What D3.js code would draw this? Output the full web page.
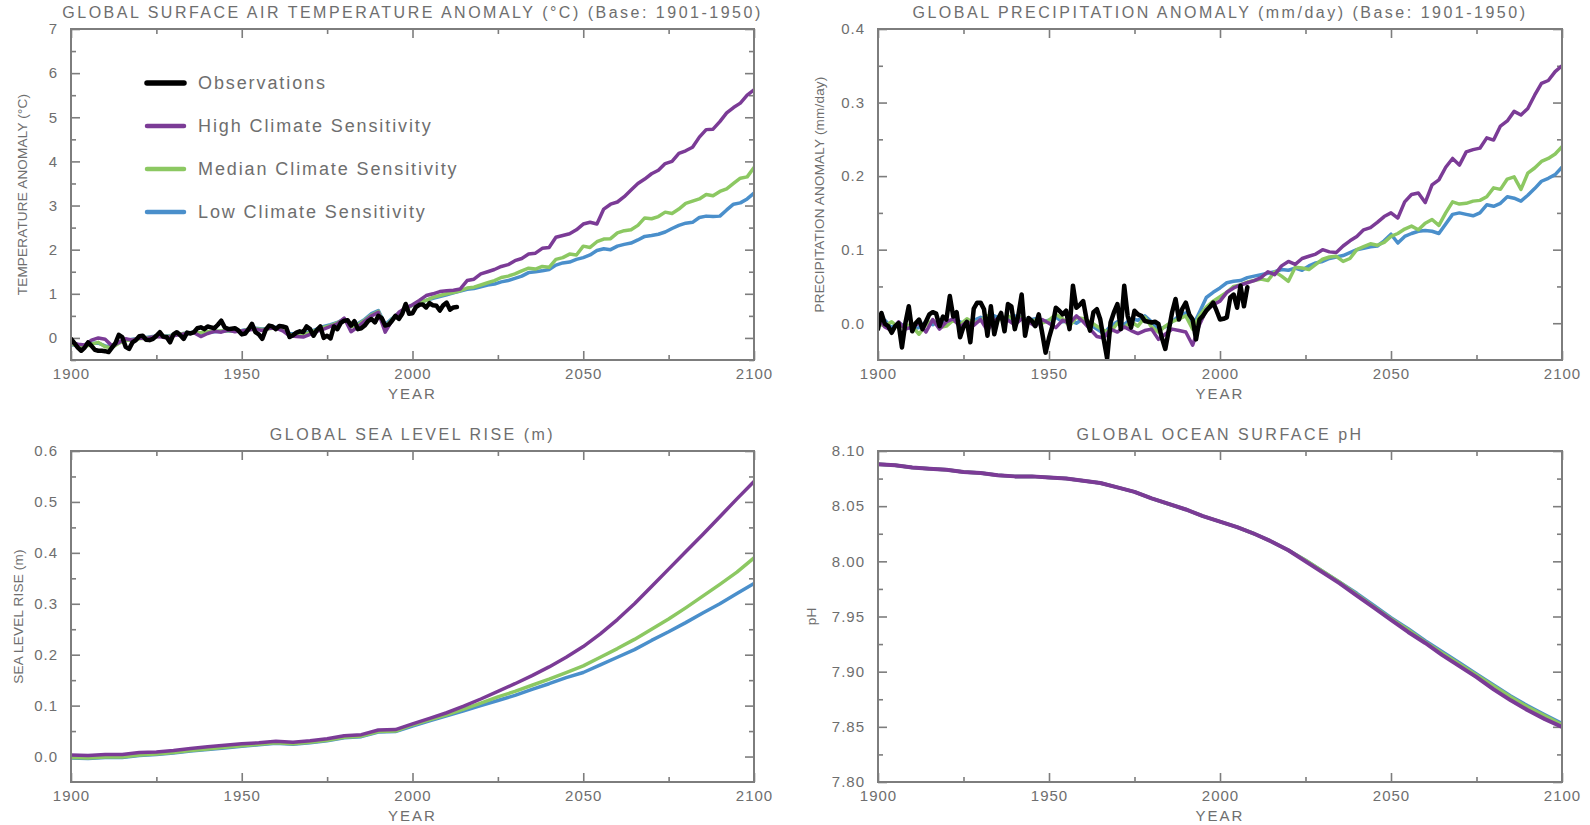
<!DOCTYPE html>
<html>
<head>
<meta charset="utf-8">
<script src="https://cdn.jsdelivr.net/npm/d3@7"></script>
<style>
  body { margin: 0; background: #fff; }
  svg text { font-family: "Liberation Sans", Arial, sans-serif; fill: #6e6e6e; }
</style>
</head>
<body>
<svg id="chart" width="1590" height="825"></svg>
<script>
// ---- data ----
const modelYears = d3.range(1900, 2101, 2);
const smoothYears = d3.range(1900, 2101, 5);
const obsTempYears = d3.range(1900, 2014);
const obsPrecipYears = d3.range(1900, 2009);

const seriesNames = ['Observations', 'High Climate Sensitivity', 'Median Climate Sensitivity', 'Low Climate Sensitivity'];

// temperature anomaly (deg C), every 2 years 1900-2100
const tempHigh = [-0.10,-0.14,-0.16,-0.05,0.00,-0.03,-0.18,-0.10,-0.02,-0.05,0.00,-0.02,0.02,0.03,0.00,0.05,0.08,0.10,0.12,0.03,
  0.10,0.15,0.13,0.18,0.14,0.16,0.18,0.20,0.17,0.22,0.22,0.16,0.05,0.03,0.02,0.08,0.15,0.20,0.26,0.32,
  0.45,0.14,0.25,0.38,0.50,0.58,0.13,0.40,0.58,0.68,0.75,0.85,0.96,1.00,1.05,1.07,1.08,1.11,1.30,1.33,
  1.45,1.50,1.55,1.62,1.66,1.75,1.80,1.90,1.92,2.03,2.05,2.28,2.32,2.36,2.45,2.58,2.62,2.58,2.92,3.03,
  3.08,3.20,3.35,3.50,3.60,3.72,3.80,3.95,4.00,4.18,4.24,4.32,4.55,4.72,4.73,4.90,5.10,5.22,5.32,5.50,5.62];
const tempMedian = [-0.14,-0.16,-0.20,-0.14,-0.10,-0.20,-0.22,-0.12,-0.06,-0.04,-0.02,0.00,0.02,0.04,0.03,0.06,0.09,0.11,0.12,0.12,
  0.14,0.15,0.16,0.17,0.15,0.16,0.19,0.21,0.19,0.21,0.23,0.19,0.08,0.07,0.08,0.12,0.18,0.24,0.28,0.34,
  0.42,0.25,0.30,0.40,0.52,0.60,0.25,0.42,0.56,0.66,0.74,0.80,0.85,0.92,0.96,1.00,1.03,1.07,1.13,1.15,
  1.20,1.25,1.30,1.37,1.40,1.45,1.52,1.58,1.56,1.62,1.60,1.78,1.82,1.90,1.88,2.08,2.05,2.18,2.24,2.25,
  2.38,2.43,2.45,2.55,2.72,2.70,2.75,2.85,2.82,2.92,3.05,3.10,3.15,3.25,3.22,3.32,3.38,3.50,3.62,3.65,3.86];
const tempLow = [-0.16,-0.15,-0.18,-0.12,-0.12,-0.18,-0.20,-0.11,-0.05,-0.03,-0.01,0.01,0.03,0.05,0.04,0.07,0.09,0.11,0.13,0.11,
  0.13,0.14,0.15,0.16,0.15,0.17,0.20,0.22,0.20,0.22,0.24,0.20,0.10,0.09,0.10,0.14,0.20,0.26,0.30,0.35,
  0.43,0.28,0.32,0.42,0.55,0.62,0.30,0.44,0.56,0.66,0.74,0.80,0.85,0.90,0.94,0.98,1.02,1.06,1.10,1.12,
  1.16,1.20,1.22,1.27,1.30,1.35,1.40,1.48,1.50,1.52,1.55,1.65,1.70,1.72,1.78,1.82,1.88,1.98,2.02,2.00,
  2.08,2.12,2.15,2.22,2.30,2.32,2.35,2.40,2.48,2.55,2.60,2.62,2.73,2.76,2.75,2.76,2.90,3.03,3.06,3.15,3.28];
// observed temperature anomaly, yearly 1900-2013
const tempObs = [-0.02,-0.12,-0.22,-0.29,-0.22,-0.10,-0.18,-0.27,-0.29,-0.29,-0.30,-0.32,-0.22,-0.12,0.07,0.02,-0.20,-0.25,-0.10,-0.05,
  0.04,0.05,-0.04,-0.05,-0.02,0.05,0.13,0.03,0.02,-0.10,0.08,0.13,0.06,-0.02,0.12,0.10,0.13,0.22,0.24,0.20,
  0.26,0.24,0.22,0.30,0.39,0.24,0.20,0.21,0.22,0.17,0.08,0.10,0.20,0.32,0.13,0.08,-0.02,0.18,0.28,0.26,
  0.20,0.27,0.26,0.24,0.02,0.06,0.12,0.15,0.13,0.26,0.20,0.05,0.18,0.26,0.00,0.05,-0.01,0.26,0.20,0.34,
  0.39,0.40,0.28,0.38,0.20,0.22,0.28,0.38,0.43,0.35,0.50,0.45,0.28,0.30,0.39,0.50,0.43,0.55,0.77,0.55,
  0.56,0.70,0.75,0.76,0.69,0.79,0.74,0.73,0.62,0.74,0.80,0.64,0.69,0.70];

// precipitation anomaly (mm/day), every 2 years 1900-2100
const precipHigh = [0.008,-0.005,-0.010,0.002,-0.008,-0.005,0.000,-0.012,0.005,-0.008,0.002,0.006,-0.005,0.002,-0.003,0.005,-0.010,0.004,0.008,0.004,
  -0.002,0.006,0.002,-0.004,0.005,0.000,-0.006,0.004,0.000,0.010,0.002,-0.008,-0.018,-0.020,-0.008,-0.012,-0.005,-0.010,-0.014,-0.010,
  -0.008,-0.022,-0.015,-0.008,-0.010,-0.012,-0.030,-0.002,0.018,0.025,0.030,0.042,0.048,0.052,0.055,0.058,0.062,0.070,0.066,0.078,
  0.084,0.080,0.088,0.091,0.094,0.100,0.097,0.096,0.105,0.112,0.118,0.127,0.130,0.137,0.145,0.150,0.143,0.165,0.175,0.177,
  0.164,0.188,0.195,0.212,0.224,0.215,0.233,0.236,0.238,0.252,0.249,0.268,0.275,0.288,0.283,0.292,0.310,0.326,0.330,0.342,0.350];
const precipMedian = [0.000,-0.004,0.002,-0.006,-0.002,-0.004,-0.015,-0.002,0.004,-0.006,-0.004,0.004,-0.002,0.006,0.000,0.004,0.010,0.002,0.006,0.010,
  0.004,0.008,0.002,0.004,0.000,0.004,0.012,0.006,-0.004,0.008,0.006,0.002,-0.004,-0.010,-0.012,0.000,-0.006,0.002,-0.004,0.008,
  -0.005,-0.012,-0.004,0.002,0.006,0.010,-0.008,0.010,0.022,0.030,0.036,0.042,0.050,0.052,0.056,0.058,0.060,0.058,0.070,0.064,
  0.057,0.076,0.075,0.073,0.080,0.087,0.090,0.091,0.084,0.088,0.100,0.104,0.108,0.106,0.110,0.118,0.122,0.128,0.132,0.127,
  0.136,0.141,0.133,0.150,0.165,0.162,0.163,0.166,0.167,0.172,0.184,0.182,0.196,0.199,0.182,0.204,0.211,0.220,0.224,0.230,0.240];
const precipLow = [-0.004,0.004,-0.006,0.000,-0.004,-0.008,-0.006,0.002,-0.002,0.004,-0.002,0.006,0.002,-0.004,0.004,0.008,0.004,0.010,0.006,0.004,
  0.010,0.008,0.004,0.006,0.002,0.004,0.008,0.002,0.004,0.000,0.006,-0.002,-0.008,-0.014,-0.004,0.002,-0.002,0.006,0.004,0.010,
  0.002,-0.008,-0.005,0.002,0.010,0.014,-0.004,0.015,0.035,0.042,0.048,0.055,0.057,0.058,0.062,0.064,0.066,0.068,0.070,0.073,
  0.072,0.075,0.072,0.078,0.082,0.084,0.088,0.090,0.092,0.096,0.100,0.102,0.104,0.105,0.112,0.121,0.109,0.118,0.122,0.125,
  0.126,0.125,0.122,0.135,0.148,0.150,0.148,0.146,0.150,0.161,0.159,0.163,0.172,0.170,0.166,0.174,0.183,0.193,0.197,0.202,0.212];
// observed precipitation anomaly, yearly 1900-2008
const precipObs = [-0.008,0.014,-0.001,-0.004,-0.013,-0.004,0.000,-0.033,0.000,0.023,-0.011,0.000,0.005,-0.008,0.002,0.012,0.015,0.013,-0.004,0.009,
  0.005,0.037,0.009,0.015,-0.019,-0.005,0.002,-0.026,0.020,0.028,0.028,0.019,-0.017,0.023,-0.015,0.005,0.014,-0.011,0.026,0.023,
  -0.008,0.010,0.039,-0.017,0.007,0.003,-0.004,0.012,-0.013,-0.040,-0.020,-0.004,0.021,0.017,0.012,0.017,-0.008,0.051,0.021,0.025,
  0.030,0.005,-0.010,0.015,0.019,0.005,-0.022,-0.048,0.001,0.015,0.026,-0.008,0.051,0.010,-0.006,0.017,0.012,0.010,0.003,0.002,
  0.001,0.002,-0.001,-0.020,-0.035,-0.010,0.015,0.033,0.005,0.020,0.028,0.012,0.005,-0.022,0.005,0.010,0.017,0.022,0.028,0.017,
  0.005,0.006,0.008,0.035,0.039,0.021,0.051,0.023,0.049];

// sea level rise (m), every 5 years 1900-2100
const seaHigh = [0.003,0.002,0.004,0.004,0.008,0.009,0.012,0.016,0.019,0.022,0.025,0.027,0.030,0.028,0.031,0.035,0.041,0.043,0.052,0.053,
  0.064,0.075,0.086,0.099,0.113,0.128,0.143,0.159,0.176,0.195,0.216,0.241,0.269,0.300,0.334,0.368,0.402,0.436,0.471,0.506,0.540];
const seaMedian = [-0.002,-0.003,-0.001,-0.001,0.003,0.005,0.008,0.012,0.015,0.018,0.021,0.024,0.027,0.025,0.028,0.032,0.038,0.040,0.049,0.050,
  0.062,0.072,0.082,0.093,0.105,0.117,0.128,0.140,0.152,0.165,0.178,0.195,0.212,0.230,0.250,0.270,0.292,0.315,0.338,0.362,0.390];
const seaLow = [-0.003,-0.004,-0.002,-0.002,0.002,0.004,0.007,0.011,0.014,0.017,0.020,0.023,0.026,0.024,0.027,0.031,0.037,0.039,0.048,0.049,
  0.060,0.070,0.080,0.090,0.100,0.110,0.120,0.132,0.143,0.155,0.165,0.180,0.195,0.210,0.228,0.245,0.263,0.282,0.300,0.320,0.340];

// ocean surface pH, every 5 years 1900-2100
const phHigh = [8.088,8.087,8.085,8.084,8.083,8.081,8.080,8.078,8.077,8.077,8.076,8.075,8.073,8.071,8.067,8.063,8.057,8.052,8.047,8.041,
  8.036,8.031,8.025,8.018,8.010,8.000,7.990,7.980,7.969,7.958,7.947,7.936,7.926,7.915,7.905,7.895,7.884,7.874,7.865,7.857,7.850];
const phMedian = [8.088,8.087,8.085,8.084,8.083,8.081,8.080,8.078,8.077,8.077,8.076,8.075,8.073,8.071,8.067,8.063,8.057,8.052,8.047,8.041,
  8.036,8.031,8.025,8.018,8.010,8.001,7.991,7.981,7.970,7.959,7.948,7.938,7.927,7.917,7.907,7.897,7.887,7.877,7.868,7.860,7.852];
const phLow = [8.088,8.087,8.085,8.084,8.083,8.081,8.080,8.078,8.077,8.077,8.076,8.075,8.073,8.071,8.067,8.063,8.057,8.052,8.047,8.041,
  8.036,8.031,8.025,8.018,8.010,8.001,7.991,7.981,7.971,7.960,7.949,7.939,7.928,7.918,7.908,7.898,7.888,7.878,7.869,7.861,7.853];

// tick values
const yearTicks = [1900, 1950, 2000, 2050, 2100];
const yearMinor = [1925, 1975, 2025, 2075];
const tempTicks = [0, 1, 2, 3, 4, 5, 6, 7];
const precipTicks = [0, 0.1, 0.2, 0.3, 0.4];
const seaTicks = [0, 0.1, 0.2, 0.3, 0.4, 0.5, 0.6];
const phTicks = [7.80, 7.85, 7.90, 7.95, 8.00, 8.05, 8.10];

// ---- style ----
const colors = { obs: '#000000', high: '#7b3b96', median: '#8cc862', low: '#4a8fcb' };
const frameColor = '#7d7d7d';
const textColor = '#6e6e6e';

const svg = d3.select('#chart');

function addAxis(g, axisFn, scale, values, size, transform, fmt, pad) {
  const axis = axisFn(scale).tickValues(values).tickSize(-size).tickPadding(pad || 0);
  axis.tickFormat(fmt ? fmt : '');
  const sel = g.append('g').attr('transform', transform).call(axis);
  sel.attr('font-family', null).attr('font-size', null);
  sel.select('.domain').remove();
  sel.selectAll('line').attr('stroke', frameColor).attr('stroke-width', 1.6);
  sel.selectAll('text').attr('fill', textColor).style('font-size', '15px').style('letter-spacing', '1px');
  return sel;
}

function drawPanel(p) {
  const w = p.width, h = p.height;
  const g = svg.append('g').attr('transform', `translate(${p.left},${p.top})`);

  const x = d3.scaleLinear().domain([1900, 2100]).range([0, w]);
  const y = d3.scaleLinear().domain(p.yDomain).range([h, 0]);

  // clip
  g.append('clipPath').attr('id', p.id + '-clip')
    .append('rect').attr('width', w).attr('height', h);

  // ticks on all four sides, pointing inward
  addAxis(g, d3.axisBottom, x, yearTicks, 9, `translate(0,${h})`, d3.format('d'), 8);
  addAxis(g, d3.axisBottom, x, yearMinor, 5, `translate(0,${h})`);
  addAxis(g, d3.axisTop, x, yearTicks, 9, 'translate(0,0)');
  addAxis(g, d3.axisTop, x, yearMinor, 5, 'translate(0,0)');
  addAxis(g, d3.axisLeft, y, p.yTicks, 9, 'translate(0,0)', p.yFormat, 13);
  addAxis(g, d3.axisLeft, y, p.yMinor, 5, 'translate(0,0)');
  addAxis(g, d3.axisRight, y, p.yTicks, 9, `translate(${w},0)`);
  addAxis(g, d3.axisRight, y, p.yMinor, 5, `translate(${w},0)`);

  // series
  const line = d3.line().x(d => x(d[0])).y(d => y(d[1]));
  const lines = g.append('g').attr('clip-path', `url(#${p.id}-clip)`);
  p.series.forEach(s => {
    lines.append('path')
      .datum(d3.zip(s.years, s.values))
      .attr('d', line)
      .attr('fill', 'none')
      .attr('stroke', s.color)
      .attr('stroke-width', s.width)
      .attr('stroke-linejoin', 'round')
      .attr('stroke-linecap', 'round');
  });

  // frame
  g.append('rect')
    .attr('width', w).attr('height', h)
    .attr('fill', 'none').attr('stroke', frameColor).attr('stroke-width', 2);

  // titles
  g.append('text')
    .attr('x', w / 2).attr('y', -11)
    .attr('text-anchor', 'middle')
    .style('font-size', '16px').style('letter-spacing', '2.5px')
    .text(p.title);

  g.append('text')
    .attr('x', w / 2).attr('y', h + 39)
    .attr('text-anchor', 'middle')
    .style('font-size', '15px').style('letter-spacing', '2px')
    .text('YEAR');

  g.append('text')
    .attr('transform', `translate(${p.yLabelX},${h / 2}) rotate(-90)`)
    .attr('text-anchor', 'middle')
    .attr('dy', '0.35em')
    .style('font-size', '13.5px').style('letter-spacing', '0.2px')
    .text(p.yLabel);

  return g;
}

// ---- panels ----
const tLen = 683, tH = 331;

const p1 = drawPanel({
  id: 'temp', left: 71, top: 29, width: tLen, height: tH,
  yDomain: [-0.5, 7], yTicks: tempTicks, yMinor: [-0.5, 0.5, 1.5, 2.5, 3.5, 4.5, 5.5, 6.5],
  yFormat: d3.format('d'),
  title: 'GLOBAL SURFACE AIR TEMPERATURE ANOMALY (\u00B0C) (Base: 1901-1950)',
  yLabel: 'TEMPERATURE ANOMALY (\u00B0C)', yLabelX: -49,
  series: [
    { years: modelYears, values: tempLow, color: colors.low, width: 3.5 },
    { years: modelYears, values: tempMedian, color: colors.median, width: 3.5 },
    { years: modelYears, values: tempHigh, color: colors.high, width: 3.5 },
    { years: obsTempYears, values: tempObs, color: colors.obs, width: 4.5 }
  ]
});

drawPanel({
  id: 'precip', left: 878, top: 29, width: 684, height: tH,
  yDomain: [-0.05, 0.4], yTicks: precipTicks, yMinor: [0.05, 0.15, 0.25, 0.35],
  yFormat: d3.format('.1f'),
  title: 'GLOBAL PRECIPITATION ANOMALY (mm/day) (Base: 1901-1950)',
  yLabel: 'PRECIPITATION ANOMALY (mm/day)', yLabelX: -59,
  series: [
    { years: modelYears, values: precipLow, color: colors.low, width: 3.5 },
    { years: modelYears, values: precipMedian, color: colors.median, width: 3.5 },
    { years: modelYears, values: precipHigh, color: colors.high, width: 3.5 },
    { years: obsPrecipYears, values: precipObs, color: colors.obs, width: 4.5 }
  ]
});

drawPanel({
  id: 'sea', left: 71, top: 451, width: tLen, height: tH,
  yDomain: [-0.05, 0.6], yTicks: seaTicks, yMinor: [0.05, 0.15, 0.25, 0.35, 0.45, 0.55],
  yFormat: d3.format('.1f'),
  title: 'GLOBAL SEA LEVEL RISE (m)',
  yLabel: 'SEA LEVEL RISE (m)', yLabelX: -53,
  series: [
    { years: smoothYears, values: seaLow, color: colors.low, width: 3.5 },
    { years: smoothYears, values: seaMedian, color: colors.median, width: 3.5 },
    { years: smoothYears, values: seaHigh, color: colors.high, width: 3.5 }
  ]
});

drawPanel({
  id: 'ph', left: 878, top: 451, width: 684, height: tH,
  yDomain: [7.8, 8.1], yTicks: phTicks, yMinor: [7.825, 7.875, 7.925, 7.975, 8.025, 8.075],
  yFormat: d3.format('.2f'),
  title: 'GLOBAL OCEAN SURFACE pH',
  yLabel: 'pH', yLabelX: -67,
  series: [
    { years: smoothYears, values: phLow, color: colors.low, width: 3.5 },
    { years: smoothYears, values: phMedian, color: colors.median, width: 3.5 },
    { years: smoothYears, values: phHigh, color: colors.high, width: 4 }
  ]
});

// legend in the temperature panel
const legendColors = [colors.obs, colors.high, colors.median, colors.low];
const legend = p1.append('g').attr('transform', 'translate(76,54)');
seriesNames.forEach((name, i) => {
  const row = legend.append('g').attr('transform', `translate(0,${i * 43})`);
  row.append('line')
    .attr('x1', 0).attr('x2', 37)
    .attr('stroke', legendColors[i]).attr('stroke-width', i === 0 ? 5.5 : 4.5)
    .attr('stroke-linecap', 'round');
  row.append('text')
    .attr('x', 51).attr('dy', '0.35em')
    .style('font-size', '18px').style('letter-spacing', '1.9px')
    .text(name);
});
</script>
</body>
</html>
